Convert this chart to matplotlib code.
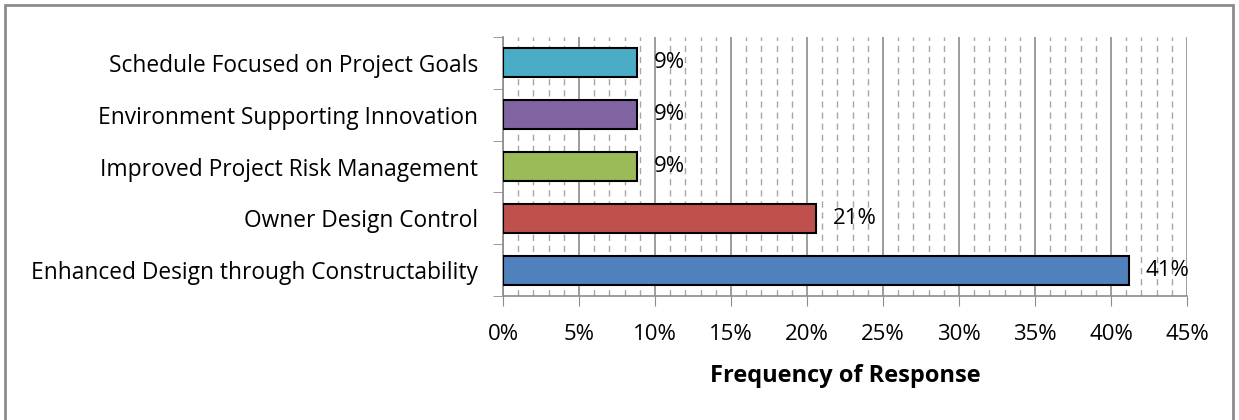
import matplotlib.pyplot as plt
import numpy as np
from matplotlib.patches import Rectangle
from matplotlib.ticker import MultipleLocator, PercentFormatter

# Data (bottom to top, as drawn)
categories = ['Enhanced Design through Constructability',
              'Owner Design Control',
              'Improved Project Risk Management',
              'Environment Supporting Innovation',
              'Schedule Focused on Project Goals']
values = [41.2, 20.6, 8.8, 8.8, 8.8]
labels = ['41%', '21%', '9%', '9%', '9%']
colors = ['#4F81BD', '#C0504D', '#9BBB59', '#8064A2', '#4BACC6']

plt.rcParams['font.family'] = ['Open Sans', 'DejaVu Sans']

fig = plt.figure(figsize=(12.39, 4.20), dpi=100)
ax = fig.add_axes([503/1239, 1 - 296/420, (1187-503)/1239, (296-37)/420])

y = np.arange(len(categories))
ax.barh(y, values, height=0.56, color=colors, edgecolor='black', linewidth=1.5, zorder=3)

# value labels
for yi, v, lab in zip(y, values, labels):
    ax.text(v + 1.1, yi, lab, va='center', ha='left', fontsize=16, zorder=4)

ax.set_xlim(0, 45)
ax.set_ylim(-0.5, len(categories) - 0.5)

ax.xaxis.set_major_locator(MultipleLocator(5))
ax.xaxis.set_minor_locator(MultipleLocator(1))
ax.xaxis.set_major_formatter(PercentFormatter(decimals=0))
ax.grid(which='major', axis='x', color='#8c8c8c', linewidth=1.2, zorder=0)
ax.grid(which='minor', axis='x', color='#a6a6a6', linewidth=1.0, linestyle=(0, (4.5, 3.5)), zorder=0)
ax.tick_params(axis='x', which='major', length=7, color='#8c8c8c', labelsize=16, pad=13)
ax.tick_params(axis='x', which='minor', length=0)

# category labels at centres, tick marks at boundaries
ax.set_yticks(y)
ax.set_yticklabels(categories, fontsize=16.4)
ax.set_yticks(np.arange(-0.5, len(categories)), minor=True)
ax.tick_params(axis='y', which='major', length=0, pad=18)
ax.tick_params(axis='y', which='minor', length=7, color='#8c8c8c')

for side in ['top', 'right']:
    ax.spines[side].set_visible(False)
for side in ['left', 'bottom']:
    ax.spines[side].set_color('#8c8c8c')
    ax.spines[side].set_linewidth(1.2)

ax.set_xlabel('Frequency of Response', fontsize=17, fontweight='bold', labelpad=14)

# outer chart border
fig.patches.append(Rectangle((5/1239, -0.1), 1228/1239, 1.1 - 5/420, transform=fig.transFigure,
                             fill=False, edgecolor='#8c8c8c', linewidth=2))

fig.savefig('out.png', dpi=100)
